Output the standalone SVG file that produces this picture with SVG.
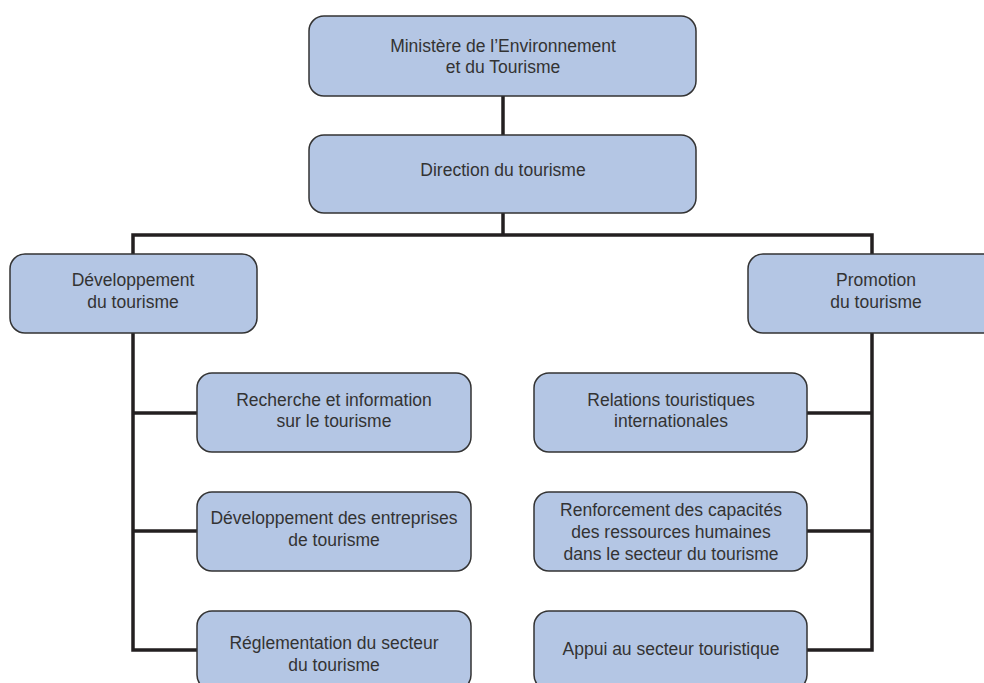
<svg xmlns="http://www.w3.org/2000/svg" width="984" height="683" viewBox="0 0 984 683">
  <style>
    .box { fill: #b4c6e4; stroke: #333333; stroke-width: 1.5; }
    .conn { fill: none; stroke: #231f20; stroke-width: 3.5; stroke-linejoin: miter; }
    .lbl { font-family: "Liberation Sans", Arial, sans-serif; font-size: 17.5px; fill: #333333; text-anchor: middle; }
  </style>
  <rect width="984" height="683" fill="#ffffff"/>
  <g id="connectors">
    <path class="conn" d="M503,96 V235"/>
    <path class="conn" d="M197,650 H133 V235 H872 V650 H807"/>
    <path class="conn" d="M133,413 H197"/>
    <path class="conn" d="M133,531 H197"/>
    <path class="conn" d="M872,413 H807"/>
    <path class="conn" d="M872,531 H807"/>
  </g>
  <g id="ministere">
    <rect class="box" x="309" y="16" width="387" height="80" rx="15"/>
    <text class="lbl" x="503" y="52">Ministère de l’Environnement</text>
    <text class="lbl" x="503" y="73">et du Tourisme</text>
  </g>
  <g id="direction">
    <rect class="box" x="309" y="135" width="387" height="78" rx="15"/>
    <text class="lbl" x="503" y="176">Direction du tourisme</text>
  </g>
  <g id="developpement">
    <rect class="box" x="10" y="254" width="247" height="79" rx="15"/>
    <text class="lbl" x="133" y="286">Développement</text>
    <text class="lbl" x="133" y="308">du tourisme</text>
  </g>
  <g id="promotion">
    <rect class="box" x="748" y="254" width="256" height="79" rx="15"/>
    <text class="lbl" x="876" y="286">Promotion</text>
    <text class="lbl" x="876" y="308">du tourisme</text>
  </g>
  <g id="recherche">
    <rect class="box" x="197" y="373" width="274" height="79" rx="15"/>
    <text class="lbl" x="334" y="406">Recherche et information</text>
    <text class="lbl" x="334" y="427">sur le tourisme</text>
  </g>
  <g id="entreprises">
    <rect class="box" x="197" y="492" width="274" height="79" rx="15"/>
    <text class="lbl" x="334" y="524">Développement des entreprises</text>
    <text class="lbl" x="334" y="546">de tourisme</text>
  </g>
  <g id="reglementation">
    <rect class="box" x="197" y="611" width="274" height="79" rx="15"/>
    <text class="lbl" x="334" y="649">Réglementation du secteur</text>
    <text class="lbl" x="334" y="671">du tourisme</text>
  </g>
  <g id="relations">
    <rect class="box" x="534" y="373" width="273" height="79" rx="15"/>
    <text class="lbl" x="671" y="406">Relations touristiques</text>
    <text class="lbl" x="671" y="427">internationales</text>
  </g>
  <g id="renforcement">
    <rect class="box" x="534" y="492" width="273" height="79" rx="15"/>
    <text class="lbl" x="671" y="516">Renforcement des capacités</text>
    <text class="lbl" x="671" y="538">des ressources humaines</text>
    <text class="lbl" x="671" y="560">dans le secteur du tourisme</text>
  </g>
  <g id="appui">
    <rect class="box" x="534" y="611" width="273" height="79" rx="15"/>
    <text class="lbl" x="671" y="655">Appui au secteur touristique</text>
  </g>
</svg>
